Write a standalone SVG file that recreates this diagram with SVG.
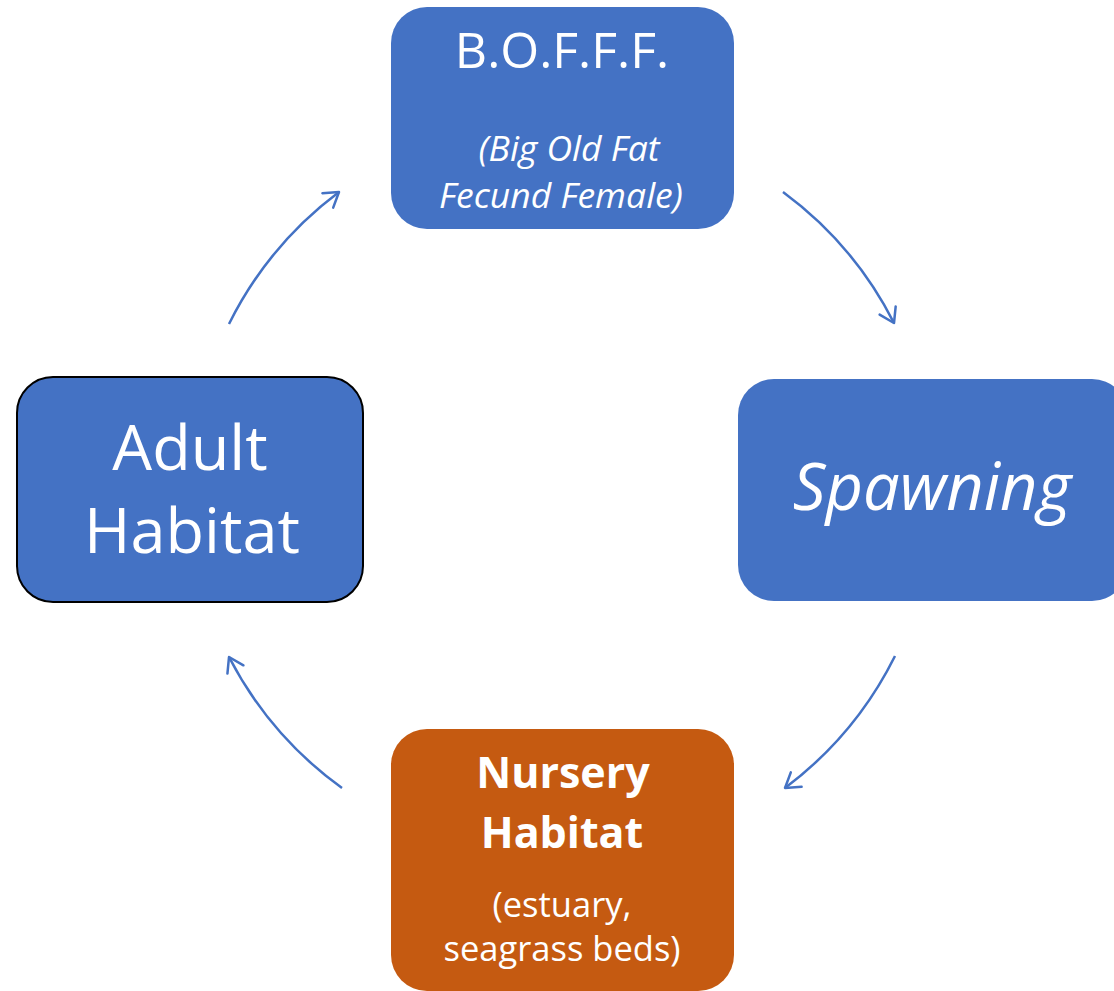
<svg xmlns="http://www.w3.org/2000/svg" width="1114" height="991" viewBox="0 0 1114 991">
<style>
.box{fill:#4472C4;}
.t{fill:#fff;font-family:"Open Sans","Noto Sans","Liberation Sans",sans-serif;text-anchor:middle;}
.conn{fill:none;stroke:#4472C4;stroke-width:2.5;marker-end:url(#ah);}
</style>
<defs>
<marker id="ah" markerUnits="userSpaceOnUse" markerWidth="24" markerHeight="24" viewBox="0 0 24 24" refX="20" refY="12" orient="auto">
<path d="M6,3 L20,12 L6,21" fill="none" stroke="#4472C4" stroke-width="2.5" stroke-linecap="round" stroke-linejoin="round"/>
</marker>
</defs>
<rect width="1114" height="991" fill="#fff"/>
<g id="connectors">
<path class="conn" d="M229,324 A372,372 0 0 1 339,192"/>
<path class="conn" d="M783,192 A372,372 0 0 1 894,323"/>
<path class="conn" d="M895,656 A372,372 0 0 1 785,788"/>
<path class="conn" d="M342,788 A372,372 0 0 1 229,657"/>
</g>
<g id="boff">
<rect class="box" x="391" y="7" width="343" height="222" rx="36"/>
<text class="t" x="562" y="68" font-size="50">B.O.F.F.F.</text>
<text class="t" x="569" y="161" font-size="35.5" font-style="italic">(Big Old Fat</text>
<text class="t" x="561" y="208" font-size="35.5" font-style="italic">Fecund Female)</text>
</g>
<g id="spawning">
<rect class="box" x="738" y="379" width="390" height="222" rx="36"/>
<text class="t" x="932" y="510" font-size="65" font-style="italic">Spawning</text>
</g>
<g id="adult">
<rect class="box" x="17" y="377" width="346" height="225" rx="36" stroke="#000" stroke-width="2"/>
<text class="t" x="190" y="470" font-size="63">Adult</text>
<text class="t" x="192" y="553" font-size="63">Habitat</text>
</g>
<g id="nursery">
<rect x="391" y="729" width="343" height="262" rx="36" fill="#C55A11"/>
<text class="t" x="563" y="788" font-size="43" font-weight="bold">Nursery</text>
<text class="t" x="562" y="848" font-size="43" font-weight="bold">Habitat</text>
<text class="t" x="562" y="917" font-size="34.5">(estuary,</text>
<text class="t" x="562" y="961" font-size="34.5">seagrass beds)</text>
</g>
</svg>
